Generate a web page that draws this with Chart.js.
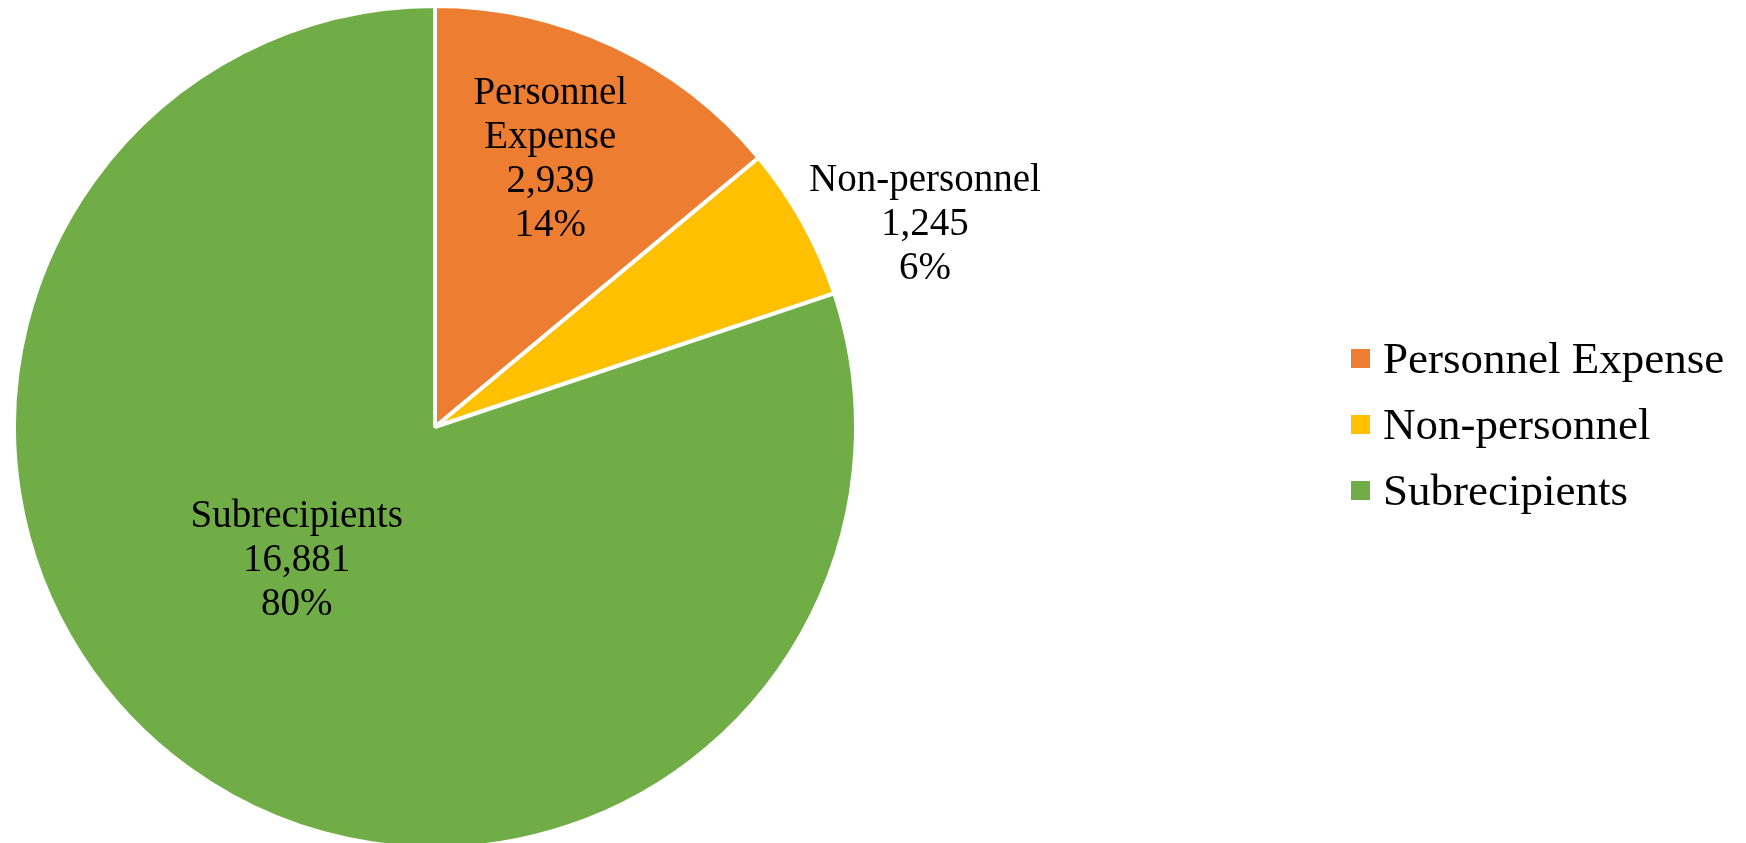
<!DOCTYPE html>
<html>
<head>
<meta charset="utf-8">
<script src="https://cdn.jsdelivr.net/npm/chart.js@4.4.0/dist/chart.umd.min.js"></script>
<style>
    html, body { margin: 0; padding: 0; background: #fff; overflow: hidden; }
    #wrap { position: relative; width: 1746px; height: 843px; }
    #pieChart { position: absolute; left: 0; top: 0; }
    #legend { position: absolute; left: 1351px; top: 325px; font-family: 'Liberation Serif', 'Times New Roman', serif; font-size: 45px; color: #000; }
    #legend .item { display: flex; align-items: center; height: 66px; }
    #legend .box { width: 19px; height: 19px; margin-right: 13px; }
</style>
</head>
<body>
<div id="wrap">
    <canvas id="pieChart" width="1746" height="852"></canvas>
    <div id="legend"></div>
</div>
<script>
const categories = ['Personnel Expense', 'Non-personnel', 'Subrecipients'];
const labelLines = [['Personnel', 'Expense'], ['Non-personnel'], ['Subrecipients']];
const values = [2939, 1245, 16881];
const colors = ['#ED7D31', '#FFC000', '#70AD47'];

// where each data label sits: fraction of radius + angle nudge (degrees)
const labelRadius = [0.692, 1.259, 0.457];
const labelShift = [-1.8, 6.7, 10.2];

const total = values.reduce((s, v) => s + v, 0);

const pieLabels = {
    id: 'pieLabels',
    afterDatasetsDraw(chart) {
        const ctx = chart.ctx;
        const meta = chart.getDatasetMeta(0);
        ctx.save();
        ctx.font = '39px "Liberation Serif", "Times New Roman", serif';
        ctx.fillStyle = '#000';
        ctx.textAlign = 'center';
        ctx.textBaseline = 'middle';
        meta.data.forEach((arc, i) => {
            const mid = (arc.startAngle + arc.endAngle) / 2 + labelShift[i] * Math.PI / 180;
            const r = arc.outerRadius * labelRadius[i];
            const x = arc.x + Math.cos(mid) * r;
            const y = arc.y + Math.sin(mid) * r;
            const lines = labelLines[i].concat([
                values[i].toLocaleString('en-US'),
                Math.round(values[i] / total * 100) + '%'
            ]);
            const lh = 44;
            const y0 = y - (lines.length - 1) * lh / 2;
            lines.forEach((t, k) => ctx.fillText(t, x, y0 + k * lh));
        });
        ctx.restore();
    }
};

new Chart(document.getElementById('pieChart'), {
    type: 'pie',
    data: {
        labels: categories,
        datasets: [{
            data: values,
            backgroundColor: colors,
            borderColor: '#ffffff',
            borderWidth: 4,
            hoverOffset: 0
        }]
    },
    options: {
        responsive: false,
        animation: false,
        events: [],
        layout: { padding: { left: 12, top: 4, right: 888, bottom: 2 } },
        plugins: {
            legend: { display: false },
            tooltip: { enabled: false }
        }
    },
    plugins: [pieLabels]
});

// legend as html
const legend = document.getElementById('legend');
categories.forEach((c, i) => {
    const item = document.createElement('div');
    item.className = 'item';
    const box = document.createElement('span');
    box.className = 'box';
    box.style.background = colors[i];
    item.appendChild(box);
    item.appendChild(document.createTextNode(c));
    legend.appendChild(item);
});
</script>
</body>
</html>
